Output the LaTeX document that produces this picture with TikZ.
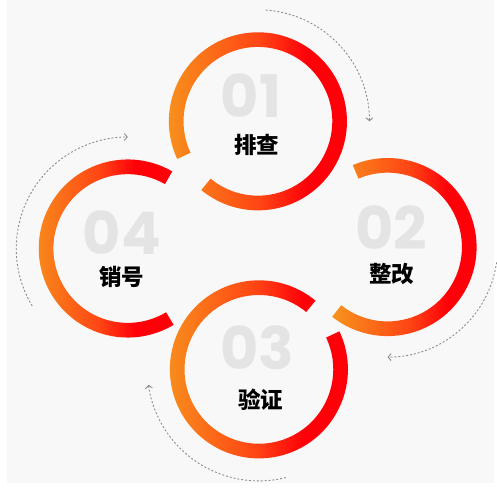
\documentclass[tikz,border=0pt]{standalone}
\usepackage{fontspec}
\newfontfamily\cjk{Noto Sans CJK SC}
\newfontfamily\numfont{Poppins}
\usetikzlibrary{arrows.meta,positioning}
\definecolor{ringorange}{HTML}{F7941D}
\definecolor{ringmid}{HTML}{FF4414}
\definecolor{ringred}{HTML}{FF0009}
\definecolor{numgray}{HTML}{E4E4E4}
\definecolor{dotgray}{HTML}{8A8A8A}
\definecolor{bggray}{HTML}{F8F8F8}
\pgfdeclarehorizontalshading{ringgrad}{100bp}{color(0bp)=(ringorange); color(25bp)=(ringorange); color(50bp)=(ringmid); color(62bp)=(ringred); color(100bp)=(ringred)}

\begin{document}
\begin{tikzpicture}[x=1pt, y=1pt, ring/.style={shading=ringgrad},
		num/.style={inner sep=0pt, text=numgray, font=\numfont\bfseries\fontsize{60}{60}\selectfont},
		word/.style={inner sep=0pt, text=black, font=\cjk\bfseries\fontsize{23}{23}\selectfont},
		loopline/.style={dotgray, line width=0.9pt, dash pattern=on 2pt off 2pt, -{Straight Barb[length=3pt, width=7pt]}}]
		
		\fill[bggray] (0,0) rectangle (497,494);
		
		\coordinate (c1) at (256,370);
		\coordinate (c2) at (388.5,241.5);
		\coordinate (c3) at (257,116.5);
		\coordinate (c4) at (123,240);
		
		\shade[ring, shift={(c1)}] (230.5:91) arc[start angle=230.5, end angle=565, radius=91] -- (565:76) arc[start angle=565, end angle=230.5, radius=76] -- cycle;
		\shade[ring, shift={(c2)}] (-128.5:91) arc[start angle=-128.5, end angle=113, radius=91] -- (113:76) arc[start angle=113, end angle=-128.5, radius=76] -- cycle;
		\shade[ring, shift={(c3)}] (50.5:91) arc[start angle=50.5, end angle=385.3, radius=91] -- (385.3:76) arc[start angle=385.3, end angle=50.5, radius=76] -- cycle;
		\shade[ring, shift={(c4)}] (60:91) arc[start angle=60, end angle=301, radius=91] -- (301:76) arc[start angle=301, end angle=60, radius=76] -- cycle;
		
		\draw[loopline, shift={(c1)}] (86:114) arc[start angle=86, end angle=0, radius=114];
		\draw[loopline, shift={(c2)}] (-8:112.5) arc[start angle=-8, end angle=-90, radius=112.5];
		\draw[loopline, shift={(c3)}] (284:114) arc[start angle=284, end angle=188, radius=114];
		\draw[loopline, shift={(c4)}] (211:114) arc[start angle=211, end angle=90, radius=114];
		
		\node[num] (n1) at (249,396) {01};
		\node[word] (w1) at (255,346) {排查};
		\node[num] (n2) at (392,261) {02};
		\node[word] (w2) at (393,214) {整改};
		\node[num] (n3) at (255,139) {03};
		\node[word] (w3) at (259,86) {验证};
		\node[num] (n4) at (117,256.5) {04};
		\node[word] (w4) at (117,211) {销号};

	\end{tikzpicture}
\end{document}
